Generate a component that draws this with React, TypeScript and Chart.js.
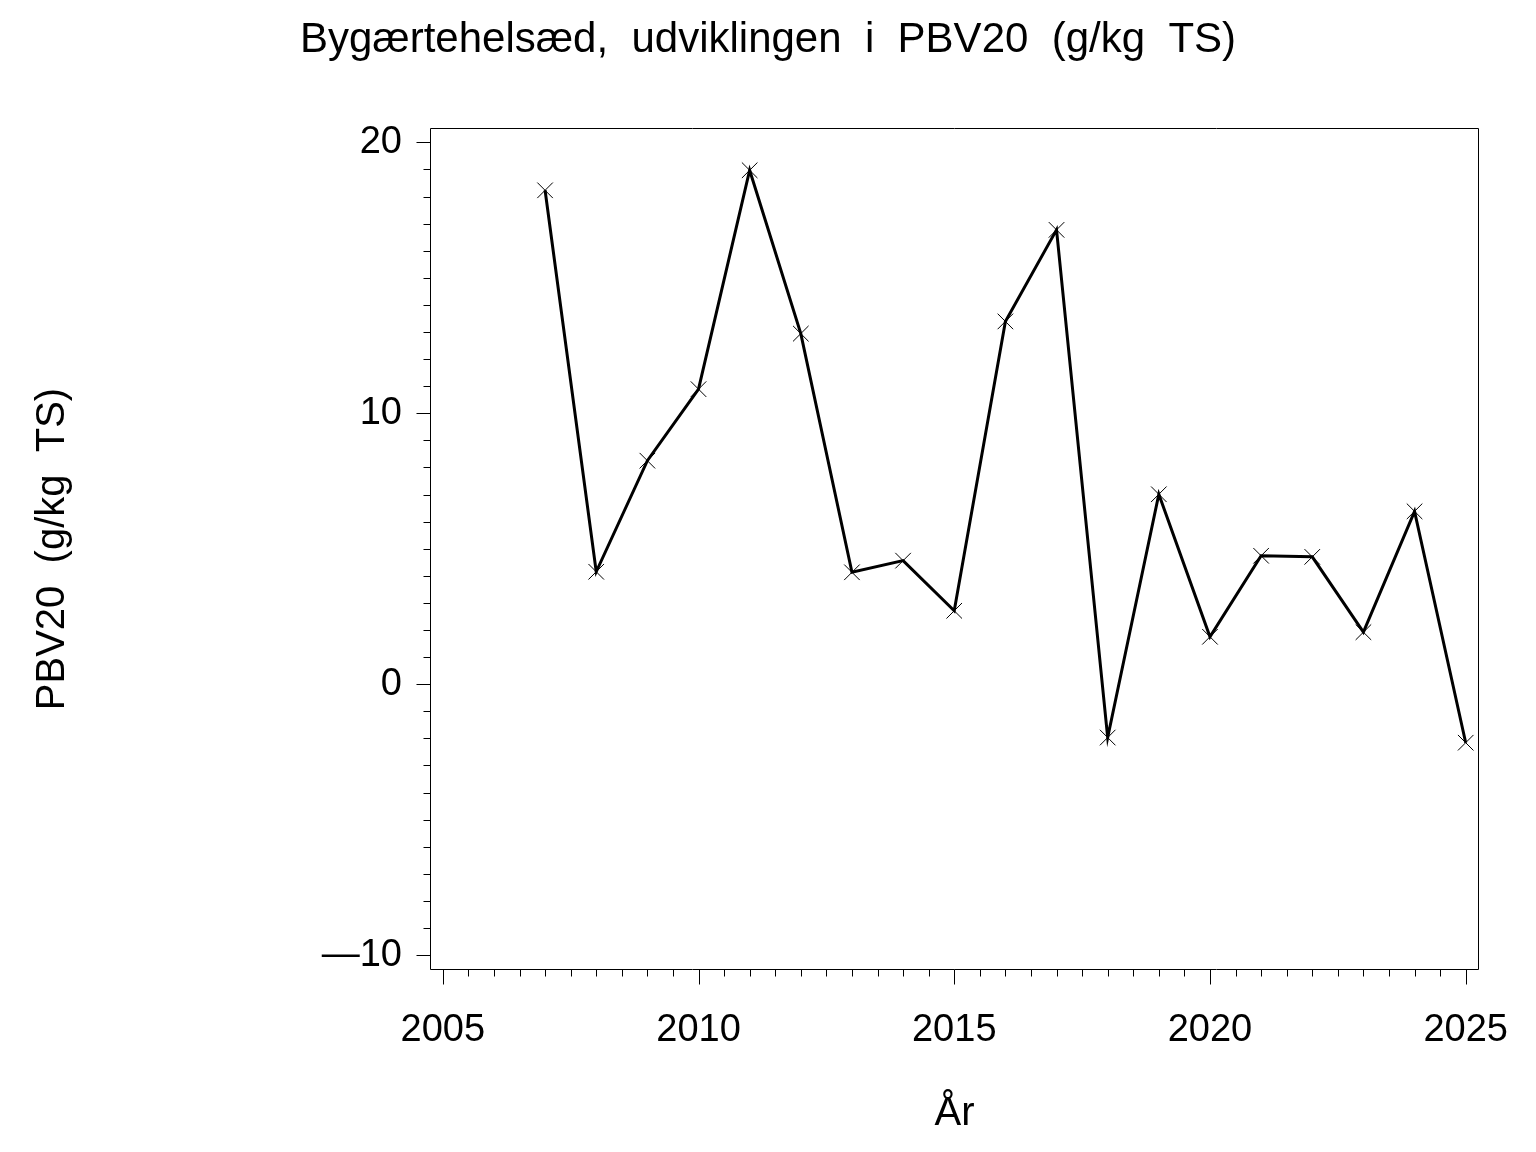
import React, { useEffect, useRef } from "react";
import { Chart, registerables } from "chart.js";

Chart.register(...registerables);

// ---- data ----
const years = [2007, 2008, 2009, 2010, 2011, 2012, 2013, 2014, 2015, 2016, 2017, 2018, 2019, 2020, 2021, 2022, 2023, 2024, 2025];
const values = [18.23, 4.15, 8.25, 10.89, 18.97, 12.94, 4.13, 4.56, 2.71, 13.39, 16.77, -1.97, 7.01, 1.75, 4.74, 4.70, 1.92, 6.38, -2.16];

const xTicks = [2005, 2010, 2015, 2020, 2025];
const xTickLabels = ["2005", "2010", "2015", "2020", "2025"];
const yTicks = [-10, 0, 10, 20];
const yTickLabels = ["\u201410", "0", "10", "20"];

const titleText = "Bygærtehelsæd,  udviklingen  i  PBV20  (g/kg  TS)";
const xTitleText = "År";
const yTitleText = "PBV20  (g/kg  TS)";

const X_MIN = 2004.75;
const X_MAX = 2025.26;
const Y_MIN = -10.55;
const Y_MAX = 20.53;
const X_MINOR_STEP = 0.5;
const Y_MINOR_STEP = 1;

const FONT = "'Liberation Sans', Arial, Helvetica, sans-serif";

const framePlugin = {
  id: "frameAndTicks",
  afterDraw(chart: any) {
    const { ctx, chartArea: a, scales } = chart;
    const xs = scales.x;
    const ys = scales.y;
    ctx.save();
    ctx.strokeStyle = "#000";
    ctx.lineWidth = 1;
    ctx.beginPath();
    const L = Math.round(a.left) + 0.5;
    const R = Math.round(a.right) - 0.5;
    const T = Math.round(a.top) + 0.5;
    const B = Math.round(a.bottom) - 0.5;
    ctx.rect(L, T, R - L, B - T);
    // y ticks
    for (let v = yTicks[0]; v <= yTicks[yTicks.length - 1] + 1e-9; v += Y_MINOR_STEP) {
      const p = Math.round(ys.getPixelForValue(v)) + 0.5;
      const major = yTicks.some((t) => Math.abs(t - v) < 1e-9);
      ctx.moveTo(L - (major ? 14 : 7), p);
      ctx.lineTo(L, p);
    }
    // x ticks
    for (let v = xTicks[0]; v <= xTicks[xTicks.length - 1] + 1e-9; v += X_MINOR_STEP) {
      const p = Math.round(xs.getPixelForValue(v)) + 0.5;
      const major = xTicks.some((t) => Math.abs(t - v) < 1e-9);
      ctx.moveTo(p, B);
      ctx.lineTo(p, B + (major ? 15 : 7));
    }
    ctx.stroke();
    ctx.restore();
  },
};

export default function App() {
  const ref = useRef<HTMLCanvasElement | null>(null);

  useEffect(() => {
    if (!ref.current) return;
    const data = years.map((y, i) => ({ x: y, y: values[i] }));
    const chart = new Chart(ref.current, {
      type: "line",
      data: {
        datasets: [
          {
            data,
            borderColor: "#000",
            borderWidth: 3,
            tension: 0,
            fill: false,
            pointStyle: "crossRot",
            pointRadius: 11,
            pointHoverRadius: 11,
            pointBorderWidth: 1,
            pointBorderColor: "#000",
            pointBackgroundColor: "#000",
          },
        ],
      },
      options: {
        responsive: false,
        animation: false,
        events: [],
        layout: { padding: { left: 0, right: 0, top: 0, bottom: 0 } },
        plugins: {
          legend: { display: false },
          tooltip: { enabled: false },
          title: {
            display: true,
            text: titleText,
            color: "#000",
            font: { family: FONT, size: 42, weight: "normal" },
            padding: { top: 15, bottom: 62.6 },
          },
        },
        scales: {
          x: {
            type: "linear",
            min: X_MIN,
            max: X_MAX,
            grid: { display: false, drawTicks: false },
            border: { display: false },
            afterBuildTicks: (scale: any) => {
              scale.ticks = xTicks.map((v) => ({ value: v }));
            },
            afterFit: (scale: any) => {
              scale.height = 182;
              scale.paddingRight = 57;
            },
            ticks: {
              autoSkip: false,
              maxRotation: 0,
              minRotation: 0,
              padding: 38,
              color: "#000",
              font: { family: FONT, size: 38 },
              callback: (v: any) => {
                const i = xTicks.indexOf(Number(v));
                return i >= 0 ? xTickLabels[i] : "";
              },
            },
            title: {
              display: true,
              text: xTitleText,
              color: "#000",
              font: { family: FONT, size: 40 },
              padding: { top: 0, bottom: 14 },
            },
          },
          y: {
            type: "linear",
            min: Y_MIN,
            max: Y_MAX,
            grid: { display: false, drawTicks: false },
            border: { display: false },
            afterBuildTicks: (scale: any) => {
              scale.ticks = yTicks.map((v) => ({ value: v }));
            },
            afterFit: (scale: any) => {
              scale.width = 430;
            },
            ticks: {
              autoSkip: false,
              padding: 28,
              color: "#000",
              font: { family: FONT, size: 38 },
              callback: (v: any) => {
                const i = yTicks.indexOf(Number(v));
                return i >= 0 ? yTickLabels[i] : "";
              },
            },
            title: {
              display: true,
              text: yTitleText,
              color: "#000",
              font: { family: FONT, size: 40 },
              padding: { top: 29, bottom: 0 },
            },
          },
        },
      },
      plugins: [framePlugin],
    });
    return () => chart.destroy();
  }, []);

  return (
    <div style={{ position: "absolute", left: 0, top: 0, width: 1536, height: 1152, background: "#fff" }}>
      <canvas ref={ref} width={1536} height={1152} style={{ display: "block" }} />
    </div>
  );
}
